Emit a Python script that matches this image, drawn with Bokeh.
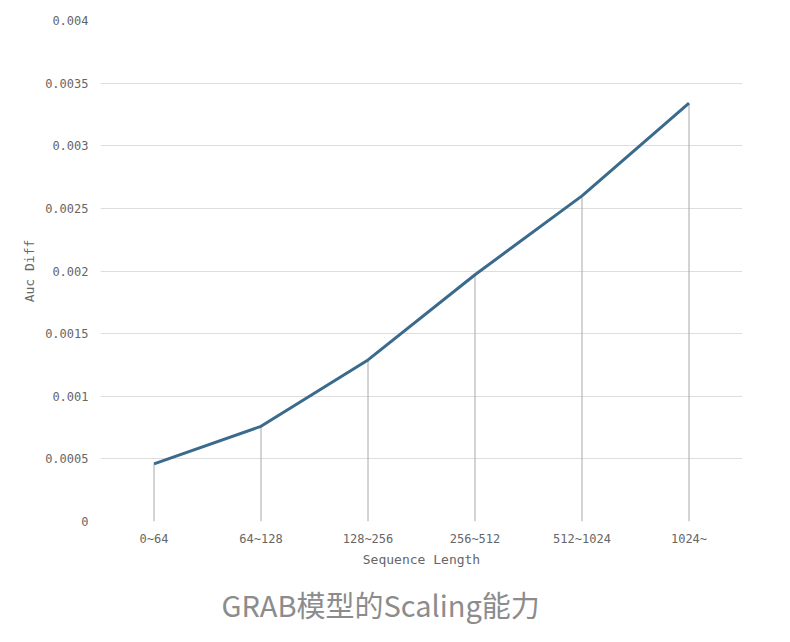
from bokeh.plotting import figure
from bokeh.models import Range1d, FixedTicker, NumeralTickFormatter, Title
from bokeh.embed import file_html
from bokeh.resources import INLINE

categories = ["0~64", "64~128", "128~256", "256~512", "512~1024", "1024~"]
auc_diff = [0.00046, 0.00076, 0.00129, 0.00197, 0.0026, 0.00334]
y_ticks = [0, 0.0005, 0.001, 0.0015, 0.002, 0.0025, 0.003, 0.0035, 0.004]
baseline = [0] * len(categories)

MONO = "DejaVu Sans Mono"

p = figure(x_range=categories, y_range=Range1d(0, 0.004),
           width=790, height=642, output_backend="svg", toolbar_location=None,
           min_border_left=100, min_border_right=48, min_border_top=20, min_border_bottom=121)
p.outline_line_color = None
p.background_fill_color = "white"

p.segment(x0=categories, y0=baseline, x1=categories, y1=auc_diff,
          line_color="#a8a8a8", line_width=1)
p.line(x=categories, y=auc_diff, line_color="#3a6a8c", line_width=3)

p.xgrid.grid_line_color = None
p.ygrid.grid_line_color = "#dddddd"
p.ygrid.grid_line_width = 1

p.yaxis.ticker = FixedTicker(ticks=y_ticks)
p.yaxis.formatter = NumeralTickFormatter(format="0.[0000]")
for ax in (p.xaxis[0], p.yaxis[0]):
    ax.axis_line_color = None
    ax.major_tick_line_color = None
    ax.minor_tick_line_color = None
    ax.major_tick_out = 0
    ax.major_tick_in = 0
    ax.minor_tick_out = 0
    ax.major_label_text_font = MONO
    ax.major_label_text_font_size = "12px"
    ax.major_label_text_color = "#666666"
    ax.axis_label_text_font = MONO
    ax.axis_label_text_font_size = "13px"
    ax.axis_label_text_font_style = "normal"
    ax.axis_label_text_color = "#666666"

p.yaxis.axis_label = "Auc Diff"
p.yaxis.major_label_standoff = 12
p.yaxis.axis_label_standoff = 5
p.xaxis.axis_label = "Sequence Length"
p.xaxis.major_label_standoff = 10
p.xaxis.axis_label_standoff = 3

t = Title(text="GRAB模型的Scaling能力", align="left", offset=121,
          text_font="Noto Sans CJK SC", text_font_size="29px",
          text_font_style="normal", text_color="#8c8c8c", standoff=23)
p.add_layout(t, "below")

open("out.html", "w").write(file_html(p, INLINE))
